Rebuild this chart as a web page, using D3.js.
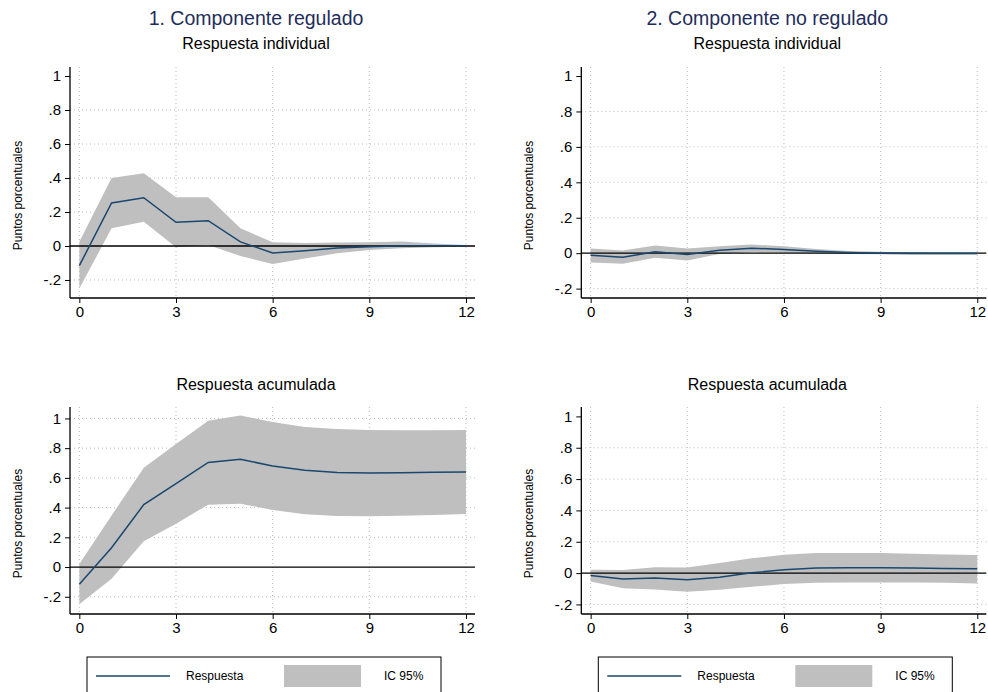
<!DOCTYPE html>
<meta charset="utf-8">
<style>
body { margin: 0; background: #fff; }
text { font-family: "Liberation Sans", Arial, sans-serif; }
.grid line { stroke: #bcbcbc; stroke-width: 1; stroke-dasharray: 1,3; }
.axisline { stroke: #000; stroke-width: 1.3; }
.zero { stroke: #000; stroke-width: 1.3; }
.resp { fill: none; stroke: #1a476f; stroke-width: 1.5; }
.band { fill: #bfbfbf; stroke: none; }
</style>
<svg width="988" height="692"></svg>
<script src="https://cdn.jsdelivr.net/npm/d3@7"></script>
<script>

// horizons (months) and tick labels
var horizons = [0, 1, 2, 3, 4, 5, 6, 7, 8, 9, 10, 11, 12];
var xTicks = [0, 3, 6, 9, 12];
var yTicks = [-0.2, 0, 0.2, 0.4, 0.6, 0.8, 1];
var yTickLabels = ["-.2", "0", ".2", ".4", ".6", ".8", "1"];

// 1. Componente regulado - respuesta individual
var regIndResp = [-0.116, 0.253, 0.284, 0.139, 0.149, 0.024, -0.041, -0.028, -0.012, -0.004, 0.002, 0.002, 0.001];
var regIndHi   = [0.025, 0.400, 0.428, 0.286, 0.286, 0.104, 0.022, 0.018, 0.020, 0.022, 0.027, 0.015, 0.006];
var regIndLo   = [-0.250, 0.104, 0.143, -0.008, 0.006, -0.059, -0.106, -0.073, -0.043, -0.024, -0.014, -0.008, -0.004];

// 1. Componente regulado - respuesta acumulada
var regAcuResp = [-0.115, 0.130, 0.420, 0.561, 0.704, 0.725, 0.680, 0.651, 0.637, 0.633, 0.635, 0.638, 0.640];
var regAcuHi   = [0.020, 0.347, 0.669, 0.828, 0.985, 1.019, 0.976, 0.943, 0.929, 0.922, 0.921, 0.921, 0.922];
var regAcuLo   = [-0.250, -0.078, 0.173, 0.291, 0.420, 0.426, 0.384, 0.355, 0.343, 0.341, 0.345, 0.351, 0.357];

// 2. Componente no regulado - respuesta individual
var noRegIndResp = [-0.011, -0.023, 0.008, -0.008, 0.017, 0.028, 0.021, 0.011, 0.004, 0.000, -0.002, -0.002, -0.002];
var noRegIndHi   = [0.026, 0.015, 0.043, 0.026, 0.039, 0.049, 0.039, 0.024, 0.013, 0.008, 0.005, 0.004, 0.003];
var noRegIndLo   = [-0.053, -0.060, -0.026, -0.041, -0.004, 0.006, 0.002, 0.000, -0.004, -0.006, -0.008, -0.007, -0.007];

// 2. Componente no regulado - respuesta acumulada
var noRegAcuResp = [-0.015, -0.038, -0.032, -0.043, -0.026, 0.002, 0.021, 0.032, 0.034, 0.034, 0.032, 0.030, 0.028];
var noRegAcuHi   = [0.022, 0.019, 0.038, 0.036, 0.064, 0.094, 0.117, 0.128, 0.128, 0.128, 0.124, 0.119, 0.115];
var noRegAcuLo   = [-0.053, -0.096, -0.104, -0.119, -0.106, -0.087, -0.070, -0.062, -0.060, -0.060, -0.060, -0.062, -0.066];

var svg = d3.select("svg");

var colOffset = 511.3;
var titleColor = "#1f2d5c";

var panels = [
  {col: 0, top: 67,  bottom: 298, yDom: [-0.306, 1.053], resp: regIndResp, lo: regIndLo, hi: regIndHi, sub: "Respuesta individual", subY: 49},
  {col: 1, top: 67,  bottom: 298, yDom: [-0.253, 1.051], resp: noRegIndResp, lo: noRegIndLo, hi: noRegIndHi, sub: "Respuesta individual", subY: 49},
  {col: 0, top: 407, bottom: 614, yDom: [-0.316, 1.077], resp: regAcuResp, lo: regAcuLo, hi: regAcuHi, sub: "Respuesta acumulada", subY: 390},
  {col: 1, top: 407, bottom: 614, yDom: [-0.261, 1.060], resp: noRegAcuResp, lo: noRegAcuLo, hi: noRegAcuHi, sub: "Respuesta acumulada", subY: 390}
];

var titles = ["1. Componente regulado", "2. Componente no regulado"];

titles.forEach(function(t, i) {
  svg.append("text")
      .attr("x", 256 + i * colOffset)
      .attr("y", 25)
      .attr("text-anchor", "middle")
      .attr("fill", titleColor)
      .style("font-size", "19.5px")
      .text(t);
});

panels.forEach(drawPanel);

function drawPanel(p) {
  var ox = p.col * colOffset;
  var left = 70, right = 475;
  var g = svg.append("g").attr("transform", "translate(" + ox + ",0)");

  var x = d3.scaleLinear().domain([-0.29, 12.28]).range([left, right]);
  var y = d3.scaleLinear().domain(p.yDom).range([p.bottom, p.top]);

  // subtitle
  g.append("text")
      .attr("x", 256)
      .attr("y", p.subY)
      .attr("text-anchor", "middle")
      .style("font-size", "16px")
      .text(p.sub);

  // grid
  var grid = g.append("g").attr("class", "grid");
  grid.selectAll("line.h")
    .data(yTicks.filter(function(v) { return y(v) - p.top > 10 && v !== 0; }))
    .enter().append("line")
      .attr("x1", left).attr("x2", right)
      .attr("y1", function(d) { return y(d); })
      .attr("y2", function(d) { return y(d); });
  grid.selectAll("line.v")
    .data(xTicks)
    .enter().append("line")
      .attr("x1", function(d) { return x(d); })
      .attr("x2", function(d) { return x(d); })
      .attr("y1", p.top).attr("y2", p.bottom);

  var rows = horizons.map(function(h, i) {
    return {h: h, r: p.resp[i], lo: p.lo[i], hi: p.hi[i]};
  });

  var area = d3.area()
      .x(function(d) { return x(d.h); })
      .y0(function(d) { return y(d.lo); })
      .y1(function(d) { return y(d.hi); });

  g.append("path").datum(rows).attr("class", "band").attr("d", area);

  g.append("line").attr("class", "zero")
      .attr("x1", left).attr("x2", right)
      .attr("y1", y(0)).attr("y2", y(0));

  var line = d3.line()
      .x(function(d) { return x(d.h); })
      .y(function(d) { return y(d.r); });

  g.append("path").datum(rows).attr("class", "resp").attr("d", line);

  // axes
  var yAxis = d3.axisLeft(y)
      .tickValues(yTicks)
      .tickSize(5)
      .tickPadding(4)
      .tickFormat(function(d, i) { return yTickLabels[i]; });
  var ya = g.append("g").attr("transform", "translate(" + left + ",0)").call(yAxis);
  ya.select(".domain").remove();
  ya.selectAll("text").style("font-size", "15px").attr("fill", "#000");
  ya.selectAll("line").attr("stroke", "#000");

  var xAxis = d3.axisBottom(x)
      .tickValues(xTicks)
      .tickSize(5)
      .tickPadding(3)
      .tickFormat(d3.format("d"));
  var xa = g.append("g").attr("transform", "translate(0," + p.bottom + ")").call(xAxis);
  xa.select(".domain").remove();
  xa.selectAll("text").style("font-size", "15px").attr("fill", "#000");
  xa.selectAll("line").attr("stroke", "#000");

  g.append("line").attr("class", "axisline")
      .attr("x1", left).attr("x2", left)
      .attr("y1", p.top).attr("y2", p.bottom);
  g.append("line").attr("class", "axisline")
      .attr("x1", left).attr("x2", right)
      .attr("y1", p.bottom).attr("y2", p.bottom);

  // y title
  g.append("text")
      .attr("transform", "translate(22," + ((p.top + p.bottom) / 2 + 13) + ") rotate(-90)")
      .attr("text-anchor", "middle")
      .style("font-size", "12px")
      .text("Puntos porcentuales");
}

// legends
[0, 1].forEach(function(col) {
  var ox = col * colOffset;
  var lg = svg.append("g").attr("transform", "translate(" + ox + ",0)");
  lg.append("rect")
      .attr("x", 87).attr("y", 657)
      .attr("width", 354).attr("height", 50)
      .attr("fill", "#fff").attr("stroke", "#000").attr("stroke-width", 1);
  lg.append("line")
      .attr("x1", 96).attr("x2", 170)
      .attr("y1", 676).attr("y2", 676)
      .attr("stroke", "#1a476f").attr("stroke-width", 1.6);
  lg.append("text")
      .attr("x", 186).attr("y", 680)
      .style("font-size", "12px")
      .text("Respuesta");
  lg.append("rect")
      .attr("x", 284).attr("y", 665)
      .attr("width", 77).attr("height", 22)
      .attr("fill", "#bfbfbf");
  lg.append("text")
      .attr("x", 384).attr("y", 680)
      .style("font-size", "12px")
      .text("IC 95%");
});

</script>
